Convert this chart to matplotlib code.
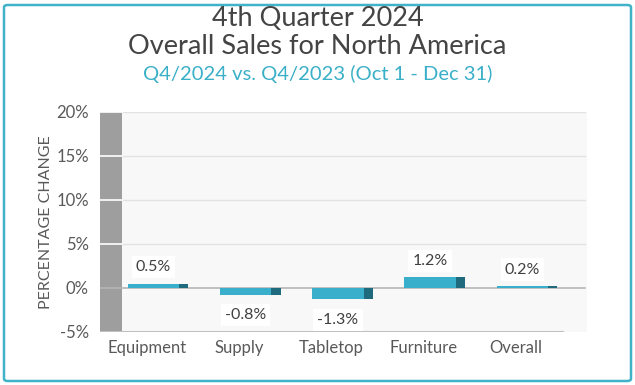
import matplotlib.pyplot as plt
from matplotlib.patches import FancyBboxPatch, Rectangle

plt.rcParams['font.family'] = ['Lato', 'DejaVu Sans']

categories = ['Equipment', 'Supply', 'Tabletop', 'Furniture', 'Overall']
changes = [0.5, -0.8, -1.3, 1.2, 0.2]
labels = ['0.5%', '-0.8%', '-1.3%', '1.2%', '0.2%']
yticks = [-5, 0, 5, 10, 15, 20]

light = '#3aafcb'
dark = '#1f6b7d'
grey_txt = '#595959'

fig = plt.figure(figsize=(6.35, 3.85), dpi=100)
W, H = 635, 385

# rounded cyan border
fig.patches.append(FancyBboxPatch((4 / W, 4 / H), 627 / W, 376 / H,
                                  boxstyle='round,pad=0,rounding_size=0.006',
                                  transform=fig.transFigure, fill=False,
                                  edgecolor='#40b3c9', linewidth=1.8))

fig.text(0.5, 1 - 19 / H, '4th Quarter 2024', ha='center', va='center',
         fontsize=19.5, color='#444444')
fig.text(0.5, 1 - 47 / H, 'Overall Sales for North America', ha='center',
         va='center', fontsize=19.5, color='#444444')
fig.text(0.5, 1 - 74 / H, 'Q4/2024 vs. Q4/2023 (Oct 1 - Dec 31)', ha='center',
         va='center', fontsize=14.5, color='#3aafc8')

ax = fig.add_axes([100 / W, 1 - 332 / H, 487 / W, 220 / H])
x0 = -0.629
ax.set_xlim(x0, 4.65)
ax.set_ylim(-5, 20)
ax.set_facecolor('white')
for s in ax.spines.values():
    s.set_visible(False)

# back wall
ax.add_patch(Rectangle((-0.39, -5), 4.65 + 0.39, 25, facecolor='#f8f8f8',
                       edgecolor='none', zorder=0))
# side wall
ax.add_patch(Rectangle((x0, -5), -0.39 - x0, 25, facecolor='#9e9e9e',
                       edgecolor='none', zorder=1))
for t in [5, 10, 15, 20]:
    ax.plot([-0.39, 4.63], [t, t], color='#e3e3e3', lw=1, zorder=1)
    ax.plot([x0, -0.39], [t, t], color='white', lw=1.2, zorder=2)
ax.plot([x0, 4.63], [0, 0], color='#b5b5b5', lw=1.2, zorder=2)
ax.plot([x0, 4.39], [-5, -5], color='#c0c0c0', lw=1.5, zorder=2)

pos = list(range(len(categories)))
bw = 0.56
dw = 0.1
ax.bar([p - dw / 2 for p in pos], changes, width=bw, color=light, zorder=3)
ax.bar([p + bw / 2 for p in pos], changes, width=dw, color=dark, zorder=3)

for p, v, lab in zip(pos, changes, labels):
    y = v + 1.9 if v >= 0 else v - 2.3
    ax.text(p - 0.05, y, lab, ha='center', va='center', fontsize=11.5,
            color='#404040', zorder=4,
            bbox=dict(facecolor='white', edgecolor='none', pad=3))

ax.set_xticks([p - 0.12 for p in pos])
ax.set_xticklabels(categories, fontsize=12, color=grey_txt)
ax.set_yticks(yticks)
ax.set_yticklabels([f'{t}%' for t in yticks], fontsize=12, color=grey_txt)
ax.tick_params(length=0, pad=8)
ax.tick_params(axis='x', pad=6)
ax.set_ylabel('PERCENTAGE CHANGE', fontsize=11.5, color=grey_txt, labelpad=2)

fig.savefig('out.png', dpi=100)
